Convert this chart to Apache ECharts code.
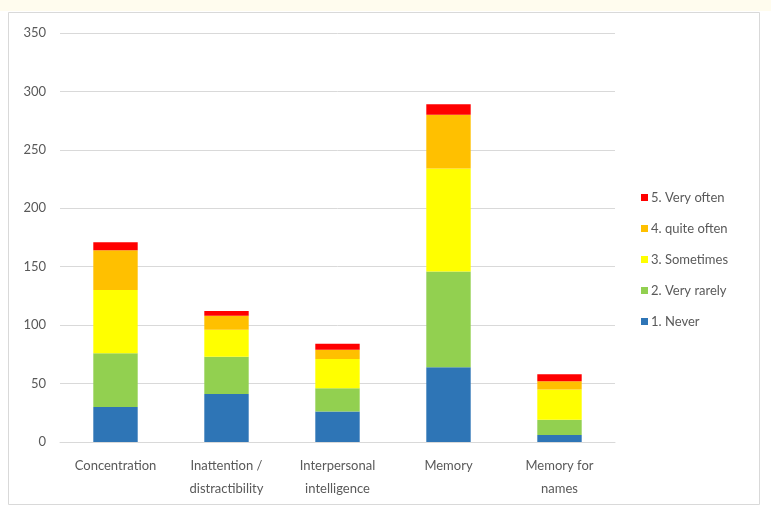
<!DOCTYPE html>
<html>
<head>
<meta charset="utf-8">
<script src="https://cdn.jsdelivr.net/npm/echarts@6/dist/echarts.min.js"></script>
<style>
html,body{margin:0;padding:0;background:#fff;}
#chart{width:771px;height:507px;}
</style>
</head>
<body>
<div id="chart"></div>
<script>
// Categories on the x axis
const categories = ['Concentration', 'Inattention /\ndistractibility', 'Interpersonal\nintelligence', 'Memory', 'Memory for\nnames'];

// Stacked response counts per category
const never = [30, 41, 26, 64, 6];
const veryRarely = [46, 32, 20, 82, 13];
const sometimes = [54, 23, 25, 88, 26];
const quiteOften = [34, 12, 8, 46, 7];
const veryOften = [7, 4, 5, 9, 6];

const seriesNames = ['1. Never', '2. Very rarely', '3. Sometimes', '4. quite often', '5. Very often'];
const seriesData = [never, veryRarely, sometimes, quiteOften, veryOften];
const colors = ['#2E75B6', '#92D050', '#FFFF00', '#FFC000', '#FF0000'];

const yTicks = { min: 0, max: 350, interval: 50 };

const chart = echarts.init(document.getElementById('chart'));
const font = 'Lato, "Open Sans", sans-serif';

chart.setOption({
  animation: false,
  backgroundColor: '#ffffff',
  textStyle: { fontFamily: font },
  graphic: [
    { type: 'rect', shape: { x: 0, y: 0, width: 771, height: 11 }, style: { fill: '#fffcee' }, silent: true },
    { type: 'rect', shape: { x: 8.5, y: 12.5, width: 751, height: 492 }, style: { fill: 'none', stroke: '#d9d9d9', lineWidth: 1 }, silent: true }
  ],
  grid: { left: 60, right: 156, top: 33, bottom: 65 },
  legend: {
    orient: 'vertical',
    left: 636,
    top: 186,
    itemWidth: 7,
    itemHeight: 7,
    itemGap: 18,
    icon: 'rect',
    data: seriesNames.slice().reverse(),
    textStyle: { color: '#595959', fontSize: 13, fontFamily: font, padding: [0, 0, 0, -2] }
  },
  xAxis: {
    type: 'category',
    data: categories,
    axisLine: { lineStyle: { color: '#d9d9d9' } },
    axisTick: { show: false },
    axisLabel: { color: '#595959', fontSize: 13, fontFamily: font, lineHeight: 23, margin: 12 }
  },
  yAxis: {
    type: 'value',
    min: yTicks.min,
    max: yTicks.max,
    interval: yTicks.interval,
    axisLine: { show: false },
    axisTick: { show: false },
    splitLine: { lineStyle: { color: '#d9d9d9' } },
    axisLabel: { color: '#595959', fontSize: 13, fontFamily: font, margin: 14 }
  },
  series: seriesNames.map((name, i) => ({
    name: name,
    type: 'bar',
    stack: 'total',
    barWidth: '40%',
    data: seriesData[i],
    itemStyle: { color: colors[i] }
  }))
});
</script>
</body>
</html>
